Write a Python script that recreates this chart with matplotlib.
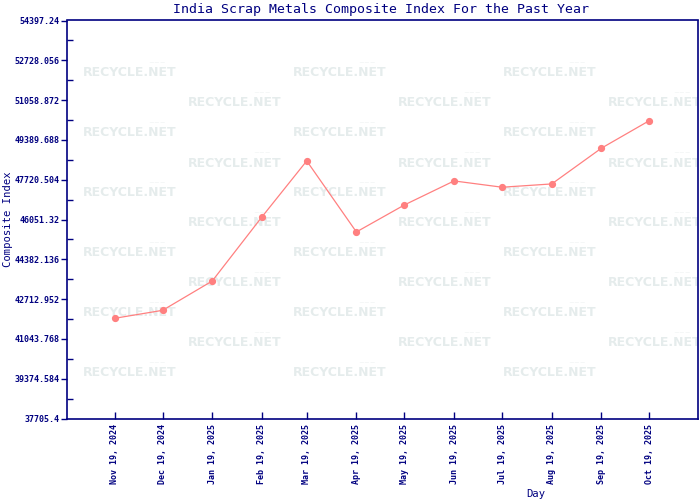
import matplotlib
matplotlib.use('Agg')
import matplotlib.pyplot as plt
import matplotlib.dates as mdates
from datetime import datetime

# data
dates = ['2024-11-19', '2024-12-19', '2025-01-19', '2025-02-19', '2025-03-19', '2025-04-19',
         '2025-05-19', '2025-06-19', '2025-07-19', '2025-08-19', '2025-09-19', '2025-10-19']
values = [41907, 42242, 43472, 46158, 48509, 45529, 46662, 47669, 47405, 47543, 49042, 50200]
y_ticks = [37705.4, 39374.584, 41043.768, 42712.952, 44382.136, 46051.32,
           47720.504, 49389.688, 51058.872, 52728.056, 54397.24]
x_range = ['2024-10-20', '2025-11-18']

title = "India Scrap Metals Composite Index For the Past Year"
navy = '#000080'
mono = 'DejaVu Sans Mono'

W, H = 700, 500
fig = plt.figure(figsize=(W / 100, H / 100), dpi=100)
left, right, top, bottom = 66.5, 697.5, 20.5, 418.5
ax = fig.add_axes([left / W, 1 - bottom / H, (right - left) / W, (bottom - top) / H])

x = [datetime.strptime(d, '%Y-%m-%d') for d in dates]
ax.plot(x, values, color='#ff8080', lw=0.9, marker='o', ms=4.2, mec='#ff8080', mfc='#ff8080', zorder=5)

ax.set_xlim(*[datetime.strptime(d, '%Y-%m-%d') for d in x_range])
ax.set_ylim(y_ticks[0], y_ticks[-1])

# watermark pattern, clipped to the plot area
for r in range(11):
    py = 73 + 30 * r
    xs = [130, 340, 550] if r % 2 == 0 else [235, 445, 655]
    for px in xs:
        ax.text(px / W, 1 - py / H, 'RECYCLE.NET', transform=fig.transFigure, ha='center', va='center',
                fontsize=9, fontweight='bold', color='#e5ecec', family='DejaVu Sans', clip_on=True, zorder=1)
        ax.text((px + 27) / W, 1 - (py - 10) / H, '~~~', transform=fig.transFigure, ha='center', va='center',
                fontsize=5, color='#eef2f2', family='DejaVu Sans', clip_on=True, zorder=1)

for s in ax.spines.values():
    s.set_color(navy)
    s.set_linewidth(1.2)

ax.set_yticks(y_ticks)
ax.set_yticklabels([str(v) for v in y_ticks])
ax.set_yticks([(a + b) / 2 for a, b in zip(y_ticks[:-1], y_ticks[1:])], minor=True)
ax.tick_params(axis='y', which='major', direction='out', length=4, width=1, color=navy, pad=1,
               labelsize=6, labelcolor=navy)
ax.tick_params(axis='y', which='minor', direction='in', length=4, width=1, color=navy)

ax.set_xticks(x)
ax.xaxis.set_major_formatter(mdates.DateFormatter('%b %d, %Y'))
ax.xaxis.set_minor_locator(matplotlib.ticker.NullLocator())
ax.tick_params(axis='x', which='major', direction='in', length=5, width=1, color=navy, pad=4,
               labelsize=6, labelcolor=navy, labelrotation=90)
for lbl in ax.get_xticklabels() + ax.get_yticklabels():
    lbl.set_family(mono)
    lbl.set_fontweight('bold')

fig.text(381 / W, 1 - 9 / H, title, ha='center', va='center', fontsize=9.5, color=navy, family=mono)
fig.text(8 / W, 1 - 219 / H, 'Composite Index', ha='center', va='center', rotation=90,
         fontsize=7.6, color=navy, family=mono)
fig.text(536 / W, 1 - 494 / H, 'Day', ha='center', va='center', fontsize=7.6, color=navy, family=mono)

fig.savefig('out.png', dpi=100)
